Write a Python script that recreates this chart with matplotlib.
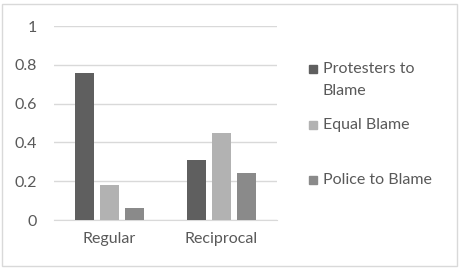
import matplotlib.pyplot as plt
import numpy as np
from matplotlib.patches import Rectangle

# Data
groups = ['Regular', 'Reciprocal']
series = ['Protesters to\nBlame', 'Equal Blame', 'Police to Blame']
protesters = [0.76, 0.31]
equal = [0.18, 0.45]
police = [0.06, 0.24]
colors = ['#5f5f5f', '#b2b2b2', '#8a8a8a']
yticks = [0, 0.2, 0.4, 0.6, 0.8, 1]
ytick_labels = ['0', '0.2', '0.4', '0.6', '0.8', '1']

plt.rcParams['font.family'] = ['Lato', 'DejaVu Sans']
text_color = '#595959'

fig = plt.figure(figsize=(4.63, 2.70), dpi=100)
ax = fig.add_axes([54 / 463, 1 - 220 / 270, (277 - 54) / 463, (220 - 26) / 270])

x = np.arange(len(groups))
width = 0.17
step = 0.223
for i, (vals, c) in enumerate(zip([protesters, equal, police], colors)):
    ax.bar(x + (i - 1) * step, vals, width, color=c, label=series[i], zorder=3)

ax.set_ylim(0, 1)
ax.set_xlim(-0.4955, 1.4955)
ax.set_yticks(yticks)
ax.set_yticklabels(ytick_labels)
ax.set_xticks(x)
ax.set_xticklabels(groups)
ax.grid(axis='y', color='#d9d9d9', linewidth=1, zorder=0)
for s in ['top', 'right', 'left']:
    ax.spines[s].set_visible(False)
ax.spines['bottom'].set_color('#d9d9d9')
ax.tick_params(length=0, labelsize=11.5, colors=text_color)
ax.tick_params(axis='x', pad=9)
ax.tick_params(axis='y', pad=12)

# Legend drawn by hand to match spacing
legend_y = [69, 125, 180]
for lbl, c, yy in zip(series, colors, legend_y):
    fig.patches.append(Rectangle((309 / 463, 1 - (yy + 4) / 270), 8 / 463, 8 / 270,
                                 transform=fig.transFigure, color=c, figure=fig))
    if '\n' in lbl:
        first, second = lbl.split('\n')
        fig.text(323 / 463, 1 - yy / 270, first, fontsize=11.5, color=text_color, va='center')
        fig.text(323 / 463, 1 - (yy + 22) / 270, second, fontsize=11.5, color=text_color, va='center')
    else:
        fig.text(323 / 463, 1 - yy / 270, lbl, fontsize=11.5, color=text_color, va='center')

# Outer border
fig.patches.append(Rectangle((2 / 463, 4 / 270), 455 / 463, 262 / 270, transform=fig.transFigure,
                             fill=False, edgecolor='#d9d9d9', linewidth=1, figure=fig))

fig.savefig('out.png', dpi=100)
